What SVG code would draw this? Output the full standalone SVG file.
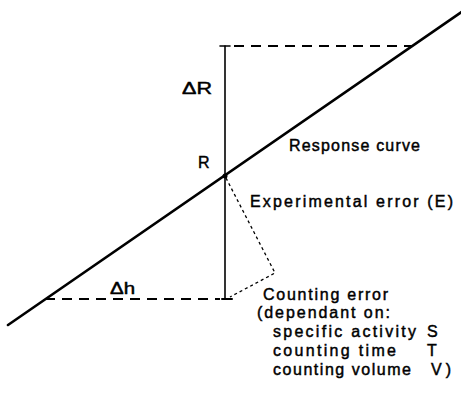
<svg xmlns="http://www.w3.org/2000/svg" width="461" height="394" viewBox="0 0 461 394">
<style>
.t{font-family:"Liberation Sans","DejaVu Sans",sans-serif;font-size:16px;fill:#000;stroke:#000;stroke-width:0.45}
.solid{stroke:#000;fill:none;stroke-linecap:round}
.dash{stroke:#000;fill:none;stroke-width:2;stroke-dasharray:10 7}
.dot{stroke:#000;fill:none;stroke-width:1.3;stroke-dasharray:3 3}
</style>
<rect width="461" height="394" fill="#fff"/>
<g id="connectors">
<line class="solid" x1="8" y1="325" x2="463" y2="11" stroke-width="2.6"/>
<line class="solid" x1="225" y1="46" x2="225" y2="299" stroke-width="1.6"/>
<line class="solid" x1="220" y1="46" x2="230" y2="46" stroke-width="1.6"/>
<line class="solid" x1="222" y1="299" x2="232" y2="299" stroke-width="2"/>
<line class="dash" x1="234" y1="46" x2="413" y2="46"/>
<line class="dash" x1="45" y1="299" x2="220" y2="299"/>
<polyline class="dot" points="226,178 275,273 230,297"/>
<circle cx="225" cy="176" r="2.5" fill="#000"/>
</g>
<g id="label-deltaR"><text class="t" x="182" y="94" textLength="30" lengthAdjust="spacingAndGlyphs">ΔR</text></g>
<g id="label-R"><text class="t" x="198" y="168">R</text></g>
<g id="label-response"><text class="t" x="289" y="151" textLength="131" lengthAdjust="spacing">Response curve</text></g>
<g id="label-experimental"><text class="t" x="250" y="207" textLength="203" lengthAdjust="spacing">Experimental error (E)</text></g>
<g id="label-deltah"><text class="t" x="110" y="294" textLength="25" lengthAdjust="spacingAndGlyphs">Δh</text></g>
<g id="label-counting">
<text class="t" x="263" y="300" textLength="125" lengthAdjust="spacing">Counting error</text>
<text class="t" x="257" y="318" textLength="133" lengthAdjust="spacing">(dependant on:</text>
<text class="t" x="273" y="337" textLength="143" lengthAdjust="spacing">specific activity</text>
<text class="t" x="427" y="337">S</text>
<text class="t" x="273" y="356" textLength="123" lengthAdjust="spacing">counting time</text>
<text class="t" x="427" y="356">T</text>
<text class="t" x="273" y="375" textLength="138" lengthAdjust="spacing">counting volume</text>
<text class="t" x="431" y="375" textLength="20" lengthAdjust="spacing">V)</text>
</g>
</svg>
